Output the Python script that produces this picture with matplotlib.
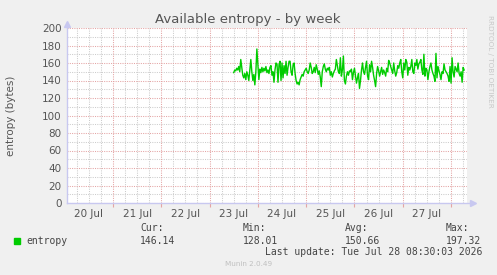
import matplotlib
matplotlib.use('Agg')
import matplotlib.pyplot as plt
import numpy as np

# entropy samples, 30 min apart, starting 23 Jul 12:00
entropy = [
    149, 152, 151, 154, 152, 156, 150, 164, 155, 146, 143, 148, 141, 150, 146, 140,
    152, 164, 150, 140, 147, 135, 150, 176, 158, 141, 153, 149, 155, 150, 154, 151,
    156, 149, 152, 148, 155, 157, 146, 150, 138, 152, 160, 159, 138, 158, 162, 140,
    160, 143, 157, 148, 162, 146, 155, 162,
    162, 150, 146, 158, 160, 148, 140, 136, 138, 135, 141, 144, 147, 145, 150, 152,
    154, 150, 148, 152, 160, 155, 148, 150, 155, 149, 158, 153, 147, 151, 144, 133,
    150, 156, 159, 153, 150, 154, 152, 155, 146, 150, 144, 148, 151, 153, 164, 157,
    150, 148, 166, 145, 152, 168, 140, 136, 145, 150, 146, 151,
    150, 153, 141, 149, 154, 145, 137, 143, 148, 131, 140, 152, 160, 150, 147, 155,
    162, 145, 141, 158, 150, 162, 155, 146, 140, 133, 148, 156, 151, 145, 150, 155,
    147, 152, 149, 145, 154, 150, 163, 160, 156, 152, 148, 160, 151, 145, 149, 157,
    154, 160, 164, 150, 143, 160, 152, 164, 161, 146, 155, 152,
    156, 164, 150, 148, 160, 157, 164, 153, 159, 161, 164, 152, 147, 170, 145, 154,
    152, 141, 150, 156, 160, 152, 148, 145, 139, 171, 143, 156, 151, 147, 141, 150,
    148, 159, 152, 150, 148, 145, 139, 156, 137, 166, 150, 144, 156, 153, 150, 160,
    148, 145, 150, 138, 155, 152,
]
start_day = 3.5          # days since 20 Jul 00:00
step_day = 1 / 48        # 30 minutes
day_labels = ['20 Jul', '21 Jul', '22 Jul', '23 Jul', '24 Jul', '25 Jul', '26 Jul', '27 Jul']
y_ticks = list(range(0, 201, 20))

stat_names = ['Cur:', 'Min:', 'Avg:', 'Max:']
stat_values = ['146.14', '128.01', '150.66', '197.32']

W, H = 497, 275
fig = plt.figure(figsize=(W / 100, H / 100), dpi=100, facecolor='#f0f0f0')
x0, x1, y0, y1 = 67, 467, 28, 203
ax = fig.add_axes([x0 / W, 1 - y1 / H, (x1 - x0) / W, (y1 - y0) / H])
ax.set_facecolor('white')

days = start_day + step_day * np.arange(len(entropy))
ax.plot(days, entropy, color='#00cc00', lw=1.0, zorder=5)

ax.set_xlim(0.048, 8.33)
ax.set_ylim(0, 200)

# grid: minor gray, major red, dotted
dots = (0, (1, 1.2))
minor_col = '#cccccc'
major_col = '#e4a4a4'
for v in range(0, 201, 10):
    if v % 20:
        ax.axhline(v, color=minor_col, lw=0.75, ls=dots, zorder=1)
    else:
        ax.axhline(v, color=major_col, lw=0.75, ls=dots, zorder=2)
for q in np.arange(0, 8.5, 0.25):
    if q % 1:
        ax.axvline(q, color=minor_col, lw=0.75, ls=dots, zorder=1)
    else:
        ax.axvline(q, color=major_col, lw=0.75, ls=dots, zorder=2)

ax.set_yticks(y_ticks)
ax.set_xticks(np.arange(len(day_labels)) + 0.5)
ax.set_xticklabels(day_labels)
ax.set_xticks(np.arange(1, 9), minor=True)
ax.tick_params(length=0, labelsize=7.5, labelcolor='#555555', pad=4)
ax.tick_params(axis='x', which='minor', length=3, width=0.8, color=major_col)
for s in ax.spines.values():
    s.set_visible(False)

# axis lines with arrows
axis_col = '#c8c8f0'
ax.plot([0, 0], [0, 1.02], transform=ax.transAxes, color=axis_col, lw=1, clip_on=False)
ax.plot([0, 1.01], [0, 0], transform=ax.transAxes, color=axis_col, lw=1, clip_on=False)
ax.plot(0, 1.025, marker='^', ms=4, color=axis_col, transform=ax.transAxes, clip_on=False)
ax.plot(1.015, 0, marker='>', ms=4, color=axis_col, transform=ax.transAxes, clip_on=False)

fig.text(248 / W, 1 - 19 / H, 'Available entropy - by week', ha='center', va='center',
         fontsize=9.5, color='#555555')
fig.text(11 / W, 1 - 116 / H, 'entropy (bytes)', rotation=90, ha='center', va='center',
         fontsize=7.5, color='#555555')
fig.text(490 / W, 1 - 15 / H, 'RRDTOOL / TOBI OETIKER', rotation=270, ha='center', va='top',
         fontsize=5.2, color='#c8c8c8')

# legend block
mono = 'DejaVu Sans Mono'
fig.patches.append(plt.Rectangle((14 / W, 1 - 244 / H), 6 / W, 6 / H, transform=fig.transFigure,
                                 color='#00cc00'))
fig.text(26 / W, 1 - 241 / H, 'entropy', family=mono, fontsize=7, color='#444444', va='center')
for i, (n, v) in enumerate(zip(stat_names, stat_values)):
    xs = [140, 243, 345, 446][i] / W
    fig.text(xs, 1 - 228 / H, n, family=mono, fontsize=7, color='#444444', va='center')
    fig.text(xs, 1 - 241 / H, v, family=mono, fontsize=7, color='#444444', va='center')
fig.text(482 / W, 1 - 252 / H, 'Last update: Tue Jul 28 08:30:03 2026', family=mono,
         fontsize=7, color='#444444', va='center', ha='right')
fig.text(249 / W, 1 - 264 / H, 'Munin 2.0.49', fontsize=5.2, color='#c0c0c0', va='center',
         ha='center')

fig.savefig('out.png', dpi=100, facecolor=fig.get_facecolor())
